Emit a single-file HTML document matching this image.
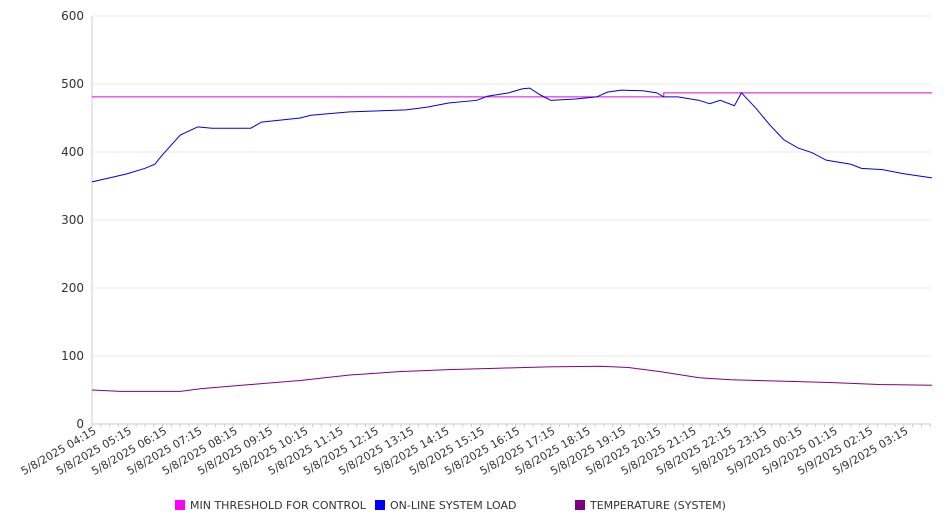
<!DOCTYPE html>
<html><head><meta charset="utf-8"><style>
html,body{margin:0;padding:0;background:#fff;width:946px;height:526px;overflow:hidden;font-family:"Liberation Sans","DejaVu Sans",sans-serif}
</style></head><body>
<svg id="chart" width="946" height="526" xmlns="http://www.w3.org/2000/svg" font-family="DejaVu Sans, Liberation Sans, sans-serif"></svg>
<script>
const xTickLabels=["5/8/2025 04:15","5/8/2025 05:15","5/8/2025 06:15","5/8/2025 07:15","5/8/2025 08:15","5/8/2025 09:15","5/8/2025 10:15","5/8/2025 11:15","5/8/2025 12:15","5/8/2025 13:15","5/8/2025 14:15","5/8/2025 15:15","5/8/2025 16:15","5/8/2025 17:15","5/8/2025 18:15","5/8/2025 19:15","5/8/2025 20:15","5/8/2025 21:15","5/8/2025 22:15","5/8/2025 23:15","5/9/2025 00:15","5/9/2025 01:15","5/9/2025 02:15","5/9/2025 03:15"];
const yTicks=[0,100,200,300,400,500,600];
// hours since 5/8 04:15
const loadHours=[0,0.5,1,1.5,1.78,2,2.5,3,3.4,4.5,4.8,5.9,6.2,7.3,8.9,9.5,10.1,10.9,11.2,11.8,12.2,12.4,12.7,13,13.7,14.3,14.6,15,15.6,16,16.2,16.6,17.2,17.5,17.8,18.2,18.4,18.8,19.2,19.6,20,20.4,20.8,21.5,21.8,22.4,23,23.8];
const loadValues=[356,362,368,376,382,396,425,437,435,435,444,450,454,459,462,466,472,476,482,487,493,494,484,476,478,481,488,491,490,487,481,481,476,471,476,468,487,465,440,418,406,399,388,382,376,374,368,362];
const tempHours=[0,0.8,2.5,3.1,4.5,5.9,7.3,8.7,10.1,11.5,12.9,14.4,15.2,16.1,17.2,18.1,19.5,20.9,22.3,23.8];
const tempValues=[50,48,48,52,58,64,72,77,80,82,84,85,83,77,68,65,63,61,58,57];
const threshHours=[0,16.2,16.2,23.8];
const threshValues=[481,481,487,487];
const X0=92,X1=931,Y0=424,YT=16,HMAX=23.77;
const xs=h=>X0+h/HMAX*(X1-X0);
const ys=v=>Y0-v/600*(Y0-YT);
const svg=document.getElementById('chart');
const NS='http://www.w3.org/2000/svg';
function mk(tag,attrs,parent){const e=document.createElementNS(NS,tag);for(const k in attrs)e.setAttribute(k,attrs[k]);(parent||svg).appendChild(e);return e;}
yTicks.forEach(v=>{
  const g=mk('line',{x1:X0,x2:X1,y1:ys(v),y2:ys(v),stroke:v===0?'#ccc':'#eaeaea','stroke-width':1});
  
  
  const t=mk('text',{x:84,y:ys(v)+4,'text-anchor':'end','font-size':12,fill:'#333'});
  t.textContent=v;
  
  
});
const ax=mk('line',{x1:X0,x2:X0,y1:YT,y2:Y0,stroke:'#ccc'});


for(let h=0;h<=HMAX;h+=0.25){mk('line',{x1:xs(h),x2:xs(h),y1:Y0,y2:Y0+3,stroke:'#ccc'});}
xTickLabels.forEach((s,i)=>{
  const x=xs(i)+5,y=Y0+9;
  const t=mk('text',{x:x,y:y,'text-anchor':'end','font-size':11,fill:'#333',transform:`rotate(-30 ${x} ${y})`});
  t.textContent=s;
  
  
});
function line(hs,vs,color,name){
  const p=mk('polyline',{points:hs.map((h,i)=>xs(h)+','+ys(vs[i])).join(' '),fill:'none',stroke:color,'stroke-width':1});
  
  
}
line(threshHours,threshValues,'#e000e0','min-threshold-line');
line(tempHours,tempValues,'#800080','temperature-line');
line(loadHours,loadValues,'#0000e0','system-load-line');
const legend=[['MIN THRESHOLD FOR CONTROL','#ff00ff',175],['ON-LINE SYSTEM LOAD','#0000ff',375],['TEMPERATURE (SYSTEM)','#800080',575]];
legend.forEach(l=>{
  const g=mk('g',{});
  
  
  mk('rect',{x:l[2],y:500,width:10,height:10,fill:l[1]},g);
  const t=mk('text',{x:l[2]+15,y:509,'font-size':11,fill:'#333'},g);
  t.textContent=l[0];
});
</script>
</body></html>
